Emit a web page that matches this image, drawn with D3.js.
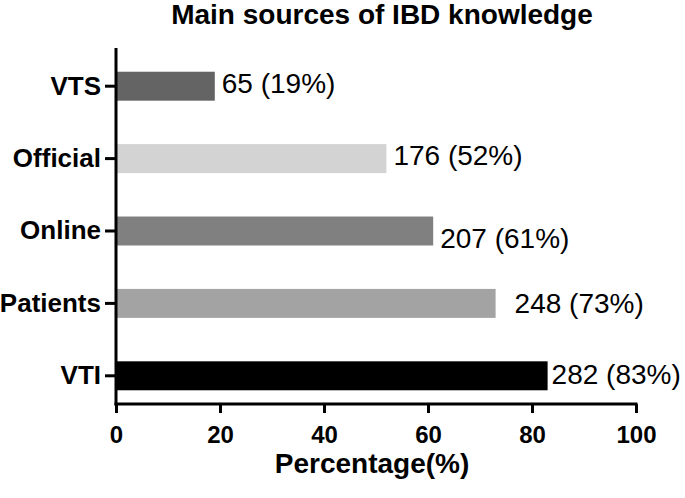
<!DOCTYPE html>
<html>
<head>
<meta charset="utf-8">
<script src="https://cdn.jsdelivr.net/npm/d3@7"></script>
<style>
  html, body { margin: 0; padding: 0; background: #fff; }
  svg { display: block; font-family: "Liberation Sans", Arial, Helvetica, sans-serif; }
</style>
</head>
<body>
<svg id="chart" width="685" height="498"></svg>
<script>
// ---- data ----
const categories = ["VTS", "Official", "Online", "Patients", "VTI"];
const counts = [65, 176, 207, 248, 282];
const percents = [19, 52, 61, 73, 83];
const xTicks = [0, 20, 40, 60, 80, 100];
const title = "Main sources of IBD knowledge";
const xTitle = "Percentage(%)";

// ---- style ----
const barColors = ["#646464", "#d3d3d3", "#808080", "#a3a3a3", "#000000"];
const labelNudge = [[0, -3], [0, -3], [0, 7], [12, 0], [-3, -2]];

const svg = d3.select("#chart");
const x0 = 116, x1 = 636, axisY = 404;

const x = d3.scaleLinear().domain([0, 100]).range([x0, x1]);
const y = d3.scaleBand().domain(categories).range([50, 412])
  .paddingInner(0.6).paddingOuter(0.3);

const rows = categories.map((c, i) => ({ c, n: counts[i], p: percents[i], i }));

// bars
svg.append("g").selectAll("rect").data(rows).join("rect")
  .attr("x", x(0))
  .attr("y", d => y(d.c))
  .attr("width", d => x(d.p) - x(0))
  .attr("height", y.bandwidth())
  .attr("fill", d => barColors[d.i]);

// value labels
svg.append("g").selectAll("text").data(rows).join("text")
  .attr("x", d => x(d.p) + 7 + labelNudge[d.i][0])
  .attr("y", d => y(d.c) + y.bandwidth() / 2 + labelNudge[d.i][1])
  .attr("dy", "0.35em")
  .attr("font-size", 28)
  .attr("fill", "#000")
  .text(d => `${d.n} (${d.p}%)`);

// x axis
const xAxis = svg.append("g")
  .attr("transform", `translate(0,${axisY})`)
  .call(d3.axisBottom(x).tickValues(xTicks).tickSize(9).tickSizeOuter(0).tickPadding(13));
xAxis.select(".domain").attr("stroke", "#000").attr("stroke-width", 3)
  .attr("d", `M${x0 - 1.5},0H${x1 + 1.5}`);
xAxis.selectAll(".tick line").attr("stroke", "#000").attr("stroke-width", 3);
xAxis.selectAll(".tick text")
  .attr("font-size", 24).attr("font-weight", "bold").attr("fill", "#000")
  .attr("font-family", "Liberation Sans, Arial, sans-serif");

// y axis
const yAxis = svg.append("g")
  .attr("transform", `translate(${x0},0)`)
  .call(d3.axisLeft(y).tickSize(11).tickSizeOuter(0).tickPadding(4));
yAxis.select(".domain").remove();
yAxis.append("line").attr("x1", 0).attr("x2", 0)
  .attr("y1", 48).attr("y2", axisY + 1.5)
  .attr("stroke", "#000").attr("stroke-width", 3);
yAxis.selectAll(".tick line").attr("stroke", "#000").attr("stroke-width", 3);
yAxis.selectAll(".tick text")
  .attr("font-size", 26).attr("font-weight", "bold").attr("fill", "#000")
  .attr("font-family", "Liberation Sans, Arial, sans-serif");

// title
svg.append("text")
  .attr("x", 382).attr("y", 24)
  .attr("text-anchor", "middle")
  .attr("font-size", 28).attr("font-weight", "bold")
  .text(title);

// x axis title
svg.append("text")
  .attr("x", 372).attr("y", 473)
  .attr("text-anchor", "middle")
  .attr("font-size", 28).attr("font-weight", "bold")
  .text(xTitle);
</script>
</body>
</html>
